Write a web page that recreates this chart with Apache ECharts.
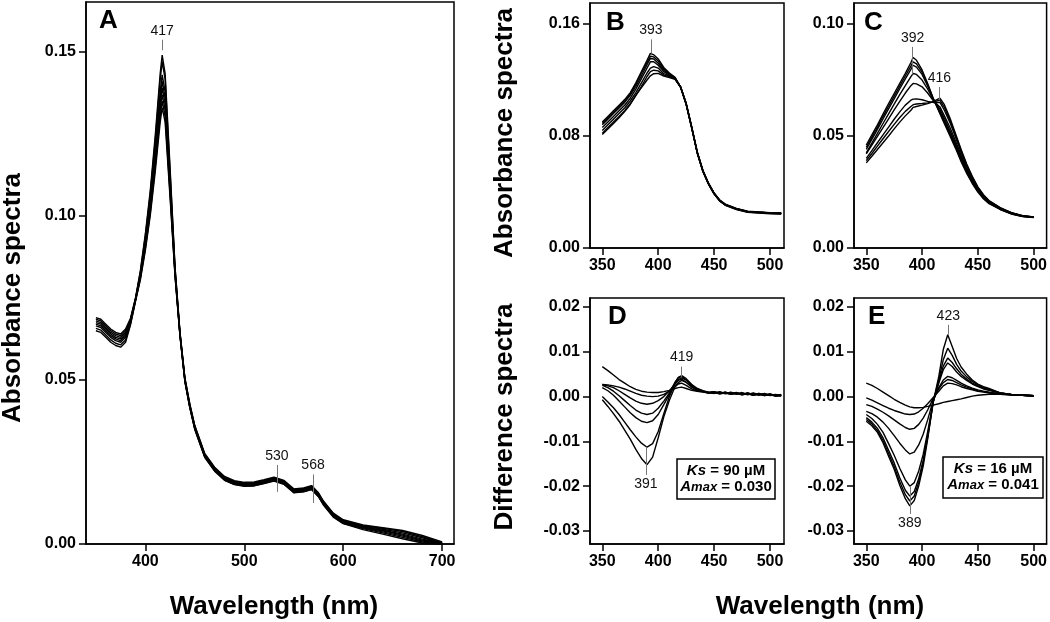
<!DOCTYPE html>
<html><head><meta charset="utf-8">
<script src="https://cdn.jsdelivr.net/npm/echarts@6.0.0/dist/echarts.min.js"></script>
<style>html,body{margin:0;padding:0;background:#fff}#c{width:1050px;height:622px}</style>
</head><body><div id="c"></div>
<script>
// ---------- Panel A: absorbance, 350-700 nm ----------
const wlA = [350,355,360,365,370,375,380,385,390,395,400,405,410,415,417,420,425,430,435,440,445,450,460,470,480,490,500,510,520,530,540,550,560,568,575,580,590,600,620,640,660,680,700];
const absA1 = [.069,.0685,.067,.0655,.0645,.064,.0655,.0688,.0749,.0834,.0945,.1078,.1245,.1434,.149,.1434,.1145,.0844,.0646,.0506,.0426,.0361,.0276,.0234,.0206,.0193,.0188,.0189,.0196,.0204,.0194,.0168,.0171,.0178,.0156,.0131,.0094,.0074,.0058,.0050,.0041,.0026,.0006];
const absA2 = [.0685,.068,.0665,.065,.064,.0635,.065,.0685,.0748,.0830,.0939,.1069,.1231,.1416,.147,.1416,.1134,.0841,.0644,.0504,.0424,.0359,.0274,.0232,.0204,.0191,.0186,.0187,.0194,.0202,.0192,.0166,.0169,.0176,.0154,.0129,.0092,.0072,.0056,.0048,.0038,.0022,.0004];
const absA3 = [.068,.0675,.066,.0645,.0635,.063,.0645,.0683,.0746,.0823,.0926,.1050,.1204,.1379,.143,.1379,.1111,.0834,.0642,.0502,.0422,.0357,.0272,.0230,.0202,.0189,.0184,.0185,.0192,.0200,.0190,.0164,.0167,.0174,.0152,.0127,.0090,.0070,.0054,.0045,.0034,.0019,.0003];
const absA4 = [.0675,.067,.0655,.064,.063,.0625,.064,.068,.0745,.082,.092,.104,.119,.136,.141,.136,.110,.083,.064,.050,.042,.0355,.027,.0228,.020,.0187,.0182,.0183,.019,.0198,.0188,.0162,.0165,.0172,.015,.0125,.0088,.0068,.0052,.0042,.0030,.0015,.0003];
const absA5 = [.067,.0665,.065,.0635,.0625,.062,.0635,.0678,.0744,.0817,.0914,.1030,.1176,.1341,.139,.1341,.1089,.0826,.0638,.0498,.0418,.0353,.0268,.0226,.0198,.0185,.0180,.0181,.0188,.0196,.0186,.0160,.0163,.0170,.0148,.0123,.0086,.0066,.0050,.0040,.0027,.0012,.0002];
const absA6 = [.0665,.066,.0645,.063,.062,.0615,.063,.0675,.0743,.0813,.0908,.1021,.1162,.1323,.137,.1323,.1078,.0823,.0637,.0497,.0417,.0352,.0267,.0225,.0197,.0184,.0179,.0180,.0187,.0195,.0185,.0159,.0162,.0169,.0147,.0122,.0085,.0065,.0049,.0037,.0024,.0009,.0001];
const absA7 = [.0657,.0652,.0637,.0622,.0612,.0607,.0622,.0671,.0741,.0810,.0901,.1011,.1149,.1304,.135,.1304,.1066,.0819,.0635,.0495,.0415,.0350,.0265,.0223,.0195,.0182,.0177,.0178,.0185,.0193,.0183,.0157,.0160,.0167,.0145,.0120,.0083,.0063,.0047,.0034,.0020,.0006,.0000];
const absA8 = [.065,.0645,.063,.0615,.0605,.06,.0615,.0668,.0739,.0806,.0895,.1002,.1135,.1286,.133,.1286,.1055,.0816,.0634,.0494,.0414,.0349,.0264,.0222,.0194,.0181,.0176,.0177,.0184,.0192,.0182,.0156,.0159,.0166,.0144,.0119,.0082,.0062,.0044,.0030,.0016,.0003,.0000];

// ---------- Panel B ----------
const wlB = [350,355,360,365,370,375,380,385,390,393,396,400,405,410,415,420,425,430,435,440,445,450,455,460,470,480,490,500,510];
const absB1 = [.090,.094,.098,.102,.106,.111,.118,.126,.134,.139,.138,.135,.129,.125,.122,.115,.1035,.0865,.0685,.0555,.0463,.0393,.0343,.0313,.0283,.0263,.0257,.0252,.0250];
const absB2 = [.089,.093,.097,.101,.105,.110,.117,.125,.1325,.137,.1365,.1335,.128,.1245,.1218,.115,.1032,.0862,.0682,.0552,.0461,.0391,.0341,.0311,.0281,.0261,.0256,.0251,.0249];
const absB3 = [.088,.092,.096,.100,.104,.109,.1155,.123,.131,.1354,.135,.132,.127,.124,.1215,.115,.103,.086,.068,.055,.046,.039,.034,.031,.028,.026,.0255,.025,.0248];
const absB4 = [.086,.090,.094,.098,.102,.107,.1135,.121,.1285,.133,.133,.1305,.126,.1235,.1212,.115,.103,.086,.068,.055,.046,.039,.034,.031,.028,.026,.0255,.025,.0248];
const absB5 = [.084,.088,.092,.096,.100,.105,.111,.118,.125,.1285,.1295,.1285,.1245,.123,.121,.115,.1028,.0858,.0678,.0548,.0458,.0388,.0338,.0308,.0278,.0258,.0253,.0248,.0246];
const absB6 = [.082,.086,.090,.094,.098,.103,.109,.1155,.1225,.126,.127,.1265,.1235,.1225,.1208,.115,.1027,.0857,.0677,.0547,.0457,.0387,.0337,.0307,.0277,.0257,.0252,.0247,.0245];
const absB7 = [.081,.085,.089,.093,.0975,.1025,.109,.1145,.120,.123,.1245,.1247,.1228,.1218,.1205,.115,.1025,.0855,.0675,.0545,.0455,.0385,.0335,.0305,.0275,.0255,.025,.0245,.0243];

// ---------- Panel C ----------
const wlC = [350,355,360,365,370,375,380,385,390,392,395,400,405,410,416,420,425,430,435,440,445,450,455,460,470,480,490,500];
const absC1 = [.046,.0505,.055,.0598,.0645,.069,.0735,.078,.0828,.0851,.0838,.0795,.0735,.0668,.060,.0555,.050,.0445,.0385,.0333,.0288,.025,.022,.0198,.0172,.0152,.014,.0136];
const absC2 = [.045,.0495,.054,.0587,.0633,.0678,.0723,.0768,.0812,.0831,.0822,.0785,.073,.0667,.0605,.0562,.0508,.0452,.0392,.0338,.0292,.0253,.0222,.0200,.0173,.0153,.0141,.0137];
const absC3 = [.044,.0485,.053,.0576,.0621,.0666,.0711,.0755,.0798,.0816,.0808,.0775,.0724,.0665,.061,.0568,.0515,.0458,.0398,.0343,.0296,.0256,.0225,.0202,.0174,.0154,.0141,.0137];
const absC4 = [.0425,.0468,.0512,.0556,.0599,.0642,.0685,.0725,.0765,.0779,.0775,.0750,.0710,.0662,.062,.0578,.0525,.0467,.0406,.0349,.0300,.0259,.0227,.0204,.0175,.0155,.0142,.0138];
const absC5 = [.042,.0459,.0498,.0537,.0577,.0617,.0655,.0692,.0725,.0735,.0733,.0720,.0692,.0658,.063,.0590,.0538,.0478,.0415,.0356,.0305,.0263,.0230,.0206,.0176,.0156,.0143,.0138];
const absC6 = [.040,.0435,.047,.0505,.054,.0575,.0608,.0638,.0660,.0665,.0666,.0662,.0655,.0650,.065,.0615,.0560,.0495,.0428,.0366,.0312,.0268,.0234,.0209,.0178,.0157,.0143,.0139];
const absC7 = [.039,.0422,.0455,.0488,.052,.0552,.0583,.0610,.0632,.0640,.0643,.0645,.0648,.0652,.066,.0628,.0570,.0503,.0434,.0370,.0316,.0270,.0236,.0210,.0179,.0158,.0144,.0139];
const absC8 = [.038,.041,.044,.047,.050,.0532,.0562,.0590,.0615,.0628,.0632,.0638,.0645,.0654,.0669,.0640,.0580,.0510,.0440,.0375,.0320,.0273,.0238,.0212,.0180,.0158,.0144,.0139];

// ---------- Panel D (difference) ----------
const wlD = [350,355,360,365,370,375,380,385,390,395,400,405,410,415,418,421,425,430,435,440,445,450,455,460,465,470,475,480,485,490,495,500,505,510];
const difD1 = [.0067,.0058,.0048,.0038,.003,.0022,.0016,.0012,.001,.0009,.0009,.0011,.0014,.0018,.002,.0021,.0018,.0014,.0012,.0011,.0009,.001,.0007,.0009,.0006,.0008,.0005,.0007,.0004,.0006,.0003,.0005,.0002,.0003];
const difD2 = [.0027,.0026,.0024,.0021,.0017,.0012,.0007,.0003,.0001,0,.0001,.0005,.0012,.0022,.0028,.003,.0025,.0017,.0012,.001,.0008,.0009,.0006,.0008,.0005,.0007,.0004,.0006,.0003,.0005,.0002,.0004,.0001,.0002];
const difD3 = [.0027,.0024,.002,.0013,.0005,-.0003,-.001,-.0015,-.0017,-.0015,-.0009,0,.0013,.0028,.0036,.0039,.0032,.0021,.0014,.0011,.0009,.0007,.001,.0006,.0009,.0005,.0008,.0004,.0007,.0003,.0006,.0002,.0004,.0001];
const difD4 = [.0025,.002,.0012,.0002,-.0009,-.002,-.003,-.0037,-.004,-.0037,-.0026,-.001,.0008,.0032,.0042,.0045,.0038,.0025,.0016,.0012,.0008,.0011,.0007,.001,.0006,.0009,.0005,.0008,.0004,.0007,.0003,.0006,.0002,.0004];
const difD5 = [.002,.0013,.0003,-.001,-.0023,-.0036,-.0047,-.0055,-.0058,-.0054,-.004,-.0018,.0005,.003,.0043,.0047,.004,.0027,.0018,.0013,.001,.0008,.0011,.0007,.001,.0006,.0009,.0005,.0008,.0004,.0007,.0003,.0005,.0002];
const difD6 = [0,-.0012,-.0025,-.004,-.0057,-.0074,-.009,-.0104,-.0113,-.0105,-.0078,-.0038,0,.0028,.0038,.0042,.0037,.0026,.0017,.0012,.0009,.0011,.0007,.001,.0006,.0009,.0005,.0008,.0004,.0007,.0003,.0006,.0002,.0005];
const difD7 = [-.0007,-.0022,-.0038,-.0055,-.0075,-.0095,-.0118,-.0138,-.0152,-.0135,-.0092,-.0045,-.0008,.0022,.0031,.0036,.0032,.0022,.0015,.0011,.0008,.001,.0006,.0009,.0005,.0008,.0004,.0007,.0003,.0006,.0002,.0005,.0001,.0003];

// ---------- Panel E (difference) ----------
const wlE = [350,355,360,365,370,375,380,385,389,393,397,401,405,410,415,419,423,427,431,435,440,445,450,455,460,470,480,490,500];
const difE1 = [.003,.0025,.0018,.001,.0002,-.0006,-.0013,-.0019,-.0023,-.0025,-.0025,-.0024,-.0022,-.0019,-.0016,-.0013,-.0011,-.0009,-.0007,-.0005,-.0002,.0001,.0003,.0004,.0005,.0005,.0004,.0003,.0002];
const difE2 = [-.0003,-.0008,-.0014,-.002,-.0026,-.0031,-.0035,-.0039,-.004,-.0039,-.0034,-.0026,-.0016,-.0002,.0012,.0024,.003,.0029,.0026,.0022,.0018,.0015,.0012,.001,.0008,.0005,.0004,.0003,.0002];
const difE3 = [-.0018,-.0022,-.0028,-.0035,-.0043,-.0052,-.0061,-.0069,-.0073,-.0071,-.0062,-.0048,-.003,-.0004,.0017,.0031,.0038,.0036,.0031,.0026,.0021,.0017,.0013,.0011,.0009,.0006,.0004,.0003,.0002];
const difE4 = [-.0033,-.0038,-.0046,-.0057,-.0071,-.0087,-.0104,-.0119,-.0128,-.0124,-.0108,-.0084,-.0052,-.0008,.002,.0037,.0045,.0042,.0036,.003,.0024,.0019,.0015,.0012,.001,.0006,.0004,.0003,.0002];
const difE5 = [-.004,-.0049,-.0062,-.008,-.0105,-.0131,-.016,-.0186,-.020,-.0192,-.0166,-.0129,-.0079,-.0011,.003,.006,.0075,.0067,.0055,.0045,.0036,.0028,.0022,.0017,.0014,.0008,.0005,.0003,.0002];
const difE6 = [-.0047,-.0057,-.0071,-.0092,-.012,-.0148,-.0181,-.0209,-.0222,-.0212,-.0183,-.0142,-.0087,-.0012,.0033,.0068,.0086,.0076,.0062,.005,.0039,.003,.0024,.0019,.0015,.0008,.0005,.0003,.0002];
const difE7 = [-.0051,-.0061,-.0076,-.0098,-.0127,-.0156,-.019,-.0219,-.0233,-.0222,-.0191,-.0148,-.0091,-.0012,.0038,.0082,.0108,.0092,.0072,.0057,.0044,.0034,.0026,.002,.0016,.0008,.0005,.0003,.0002];
const difE8 = [-.0055,-.0065,-.0080,-.0103,-.0133,-.0162,-.0198,-.0228,-.0244,-.0232,-.0199,-.0155,-.0095,-.0012,.0045,.0105,.0138,.0112,.0085,.0066,.0050,.0037,.0028,.0022,.0018,.0008,.0004,.0003,.0002];

// ---------- Ticks ----------
const ticksXA = [400,500,600,700];
const ticksXRight = [350,400,450,500];
const ticksYA = [0,0.05,0.10,0.15];
const ticksYB = [0,0.08,0.16];
const ticksYC = [0,0.05,0.10];
const ticksYDiff = [-0.03,-0.02,-0.01,0,0.01,0.02];

// ---------- Peak annotations: [wavelength, from, to, label] ----------
const peaksA = [[417,0.1505,0.1537,'417'],[533,0.0159,0.0241,'530'],[569.5,0.0125,0.0212,'568']];
const peaksB = [[393.5,0.139,0.149,'393']];
const peaksC = [[391.5,0.0775,0.0898,'392'],[415.5,0.066,0.0719,'416']];
const peaksD = [[421,0.0044,0.0067,'419'],[389,-0.0112,-0.0175,'391']];
const peaksE = [[423.5,0.0138,0.016,'423'],[389,-0.020,-0.0262,'389']];

// ---------- Text ----------
const panelLetters = ['A','B','C','D','E'];
const boxD = ['Ks','= 90 µM','= 0.030'];
const boxE = ['Ks','= 16 µM','= 0.041'];

const FONT = '"Liberation Sans", Arial, Helvetica, sans-serif';
const panels = [
  {wl: wlA, curves: [absA1,absA2,absA3,absA4,absA5,absA6,absA7,absA8], peaks: peaksA, xr:[340,712], yr:[0,0.1652], xt: ticksXA, yt: ticksYA},
  {wl: wlB, curves: [absB1,absB2,absB3,absB4,absB5,absB6,absB7], peaks: peaksB, xr:[339,512.5], yr:[0,0.175], xt: ticksXRight, yt: ticksYB},
  {wl: wlC, curves: [absC1,absC2,absC3,absC4,absC5,absC6,absC7,absC8], peaks: peaksC, xr:[339,511.6], yr:[0,0.1094], xt: ticksXRight, yt: ticksYC},
  {wl: wlD, curves: [difD1,difD2,difD3,difD4,difD5,difD6,difD7], peaks: peaksD, xr:[339,512.5], yr:[-0.0329,0.022], xt: ticksXRight, yt: ticksYDiff},
  {wl: wlE, curves: [difE1,difE2,difE3,difE4,difE5,difE6,difE7,difE8], peaks: peaksE, xr:[339,511.6], yr:[-0.0329,0.022], xt: ticksXRight, yt: ticksYDiff}
];
const grids = [
  {left:86, top:2, width:368, height:542},
  {left:590, top:3, width:194, height:245},
  {left:854, top:3, width:194, height:245},
  {left:590, top:298, width:194, height:246},
  {left:854, top:298, width:194, height:246}
];

const axisCommon = {
  axisLine: {show:true, onZero:false, lineStyle:{color:'#000', width:1.5}},
  splitLine: {show:false}
};
const labelStyle = {color:'#000', fontSize:16, fontWeight:'bold', fontFamily:FONT, margin:10};

const xAxis = [], yAxis = [], series = [];
panels.forEach((p, i) => {
  xAxis.push(Object.assign({}, axisCommon, {
    type:'value', gridIndex:i, min:p.xr[0], max:p.xr[1],
    axisTick:{show:true, length:7, customValues:p.xt, lineStyle:{color:'#000', width:1.5}},
    axisLabel:Object.assign({}, labelStyle, {customValues:p.xt, formatter:v=>String(v)})
  }));
  yAxis.push(Object.assign({}, axisCommon, {
    type:'value', gridIndex:i, min:p.yr[0], max:p.yr[1],
    axisTick:{show:true, length:7, customValues:p.yt, lineStyle:{color:'#000', width:1.5}},
    axisLabel:Object.assign({}, labelStyle, {customValues:p.yt, formatter:v=>v.toFixed(2)})
  }));
  p.curves.forEach((c, k) => {
    const s = {
      type:'line', xAxisIndex:i, yAxisIndex:i, showSymbol:false, symbol:'none',
      animation:false, silent:true, z:3,
      lineStyle:{color:'#000', width:1.4},
      data: p.wl.map((w, j) => [w, c[j]])
    };
    if (k === 0) {
      s.markLine = {
        silent:true, animation:false, symbol:['none','none'],
        lineStyle:{color:'#777', width:1, type:'solid'},
        label:{show:true, position:'end', formatter:'{b}', color:'#111', fontSize:14, fontFamily:FONT, distance:2},
        data: p.peaks.map(q => [{name:q[3], coord:[q[0], q[1]]}, {coord:[q[0], q[2]]}])
      };
    }
    series.push(s);
  });
});

const letterPos = [[99,21],[606,23],[864,23],[608,317],[868,317]];
const graphic = [];
panelLetters.forEach((L, i) => {
  graphic.push({type:'text', x:letterPos[i][0], y:letterPos[i][1], z:100,
    style:{text:L, font:'bold 26px '+FONT, fill:'#000', textVerticalAlign:'middle'}});
});
const titleFont = 'bold 26px '+FONT;
graphic.push({type:'text', x:13, y:298, rotation:Math.PI/2, z:100,
  style:{text:'Absorbance spectra', font:titleFont, fill:'#000', textAlign:'center', textVerticalAlign:'middle'}});
graphic.push({type:'text', x:505, y:133, rotation:Math.PI/2, z:100,
  style:{text:'Absorbance spectra', font:titleFont, fill:'#000', textAlign:'center', textVerticalAlign:'middle'}});
graphic.push({type:'text', x:505, y:417, rotation:Math.PI/2, z:100,
  style:{text:'Difference spectra', font:titleFont, fill:'#000', textAlign:'center', textVerticalAlign:'middle'}});
graphic.push({type:'text', x:274, y:607, z:100,
  style:{text:'Wavelength (nm)', font:titleFont, fill:'#000', textAlign:'center', textVerticalAlign:'middle'}});
graphic.push({type:'text', x:820, y:607, z:100,
  style:{text:'Wavelength (nm)', font:titleFont, fill:'#000', textAlign:'center', textVerticalAlign:'middle'}});

function ksBox(x, y, w, h, t) {
  graphic.push({type:'rect', z:100, shape:{x:x, y:y, width:w, height:h},
    style:{fill:'#fff', stroke:'#000', lineWidth:1.5}});
  const rich = {
    i:{fontStyle:'italic', fontWeight:'bold', fontSize:15, fontFamily:FONT, fill:'#000'},
    s:{fontStyle:'italic', fontWeight:'bold', fontSize:13, fontFamily:FONT, fill:'#000'},
    n:{fontWeight:'bold', fontSize:15, fontFamily:FONT, fill:'#000'}
  };
  graphic.push({type:'text', z:101, x:x+w/2, y:y+12,
    style:{text:'{i|'+t[0]+'}{n| '+t[1]+'}', rich:rich, textAlign:'center', textVerticalAlign:'middle'}});
  graphic.push({type:'text', z:101, x:x+w/2, y:y+28,
    style:{text:'{i|A}{s|max}{n| '+t[2]+'}', rich:rich, textAlign:'center', textVerticalAlign:'middle'}});
}
ksBox(677, 459, 98, 40, boxD);
ksBox(943, 457, 100, 41, boxE);

const chart = echarts.init(document.getElementById('c'), null, {renderer:'canvas'});
chart.setOption({
  backgroundColor:'#fff',
  animation:false,
  grid: grids.map(g => Object.assign({show:true, borderColor:'#000', borderWidth:1.5, backgroundColor:'transparent', containLabel:false}, g)),
  xAxis, yAxis, series, graphic
});
</script></body></html>
